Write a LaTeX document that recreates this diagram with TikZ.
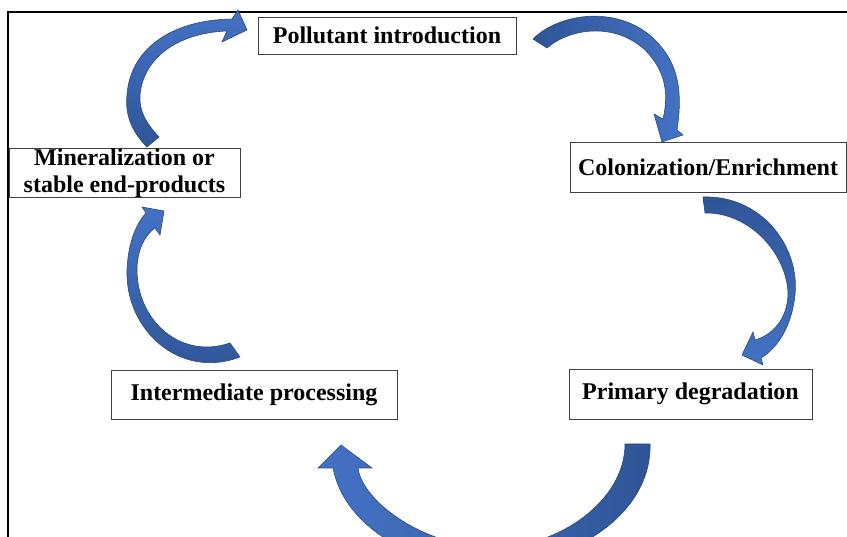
\documentclass[tikz,border=0pt]{standalone}
\usepackage{fontspec}
\setmainfont{Liberation Serif}
\definecolor{arrowlight}{HTML}{4472C4}
\definecolor{arrowdark}{HTML}{2F5597}
\definecolor{arrowline}{HTML}{2A4A80}
\definecolor{boxline}{HTML}{404040}

\begin{document}
\begin{tikzpicture}[x=1pt,y=-1pt,
    stage/.style={draw=boxline, line width=0.9pt, fill=white, inner sep=0pt,
      font=\fontsize{24}{26.5}\selectfont\bfseries, align=center},
    cyclearrow/.style={draw=arrowline, line width=0.6pt}]
  \useasboundingbox (0,0) rectangle (847,537);
  \clip (0,0) rectangle (847,537);
  %% Draw the frame
  \draw[line width=1.3pt] (8,545) -- (8,12) -- (855,12);
  %% Draw the arrows
  % introduction <- mineralization
  \draw[cyclearrow, top color=arrowlight, bottom color=arrowdark]
    (159,137) .. controls (145,122) and (139,110) .. (140,95)
    .. controls (143,60) and (175,33) .. (227,31)
    -- (222,42) -- (247,30) -- (238,10) -- (232,19)
    .. controls (170,20) and (130,50) .. (127,95)
    .. controls (125,112) and (130,130) .. (147,147) -- cycle;
  % introduction -> colonization
  \draw[cyclearrow, left color=arrowdark, right color=arrowlight]
    (533,39) .. controls (560,12) and (620,5) .. (655,40)
    .. controls (675,60) and (684,85) .. (677,130)
    -- (683,135) -- (662,142) -- (654,114) -- (663,119)
    .. controls (670,90) and (663,68) .. (645,50)
    .. controls (615,22) and (570,28) .. (547,48) -- cycle;
  % colonization -> primary degradation
  \draw[cyclearrow, top color=arrowdark, bottom color=arrowlight]
    (703,197) .. controls (760,195) and (800,245) .. (795,295)
    .. controls (792,325) and (778,348) .. (761,358)
    -- (763,365) -- (742,355) -- (753,332) -- (755,340)
    .. controls (772,335) and (787,320) .. (788,295)
    .. controls (788,255) and (750,212) .. (705,213) -- cycle;
  % primary degradation -> intermediate
  \draw[cyclearrow, right color=arrowdark, left color=arrowlight]
    (650,444) .. controls (652,505) and (590,560) .. (490,568)
    .. controls (420,568) and (345,530) .. (333,468)
    -- (318,468) -- (341,445) -- (372,468) -- (358,468)
    .. controls (362,500) and (420,545) .. (490,548)
    .. controls (560,548) and (625,500) .. (625,444) -- cycle;
  % intermediate -> mineralization
  \draw[cyclearrow, top color=arrowlight, bottom color=arrowdark]
    (230,343) .. controls (180,360) and (137,320) .. (137,270)
    .. controls (137,250) and (145,235) .. (155,228)
    -- (160,235) -- (164,211) -- (142,207) -- (146,213)
    .. controls (135,225) and (128,245) .. (127,270)
    .. controls (125,330) and (180,380) .. (240,357) -- cycle;
  %% Draw the stages
  \node[stage, minimum width=258pt, minimum height=37pt] (intro) at (387,35.5) {Pollutant introduction};
  \node[stage, minimum width=276pt, minimum height=50pt] (colon) at (708,167) {Colonization/Enrichment};
  \node[stage, minimum width=243pt, minimum height=50pt] (primary) at (690.5,394) {Primary degradation};
  \node[stage, minimum width=286pt, minimum height=49pt] (interm) at (254,394.5) {Intermediate processing};
  \node[stage, minimum width=231pt, minimum height=48pt] (minera) at (124.5,173) {Mineralization or\\stable end-products};
\end{tikzpicture}
\end{document}
